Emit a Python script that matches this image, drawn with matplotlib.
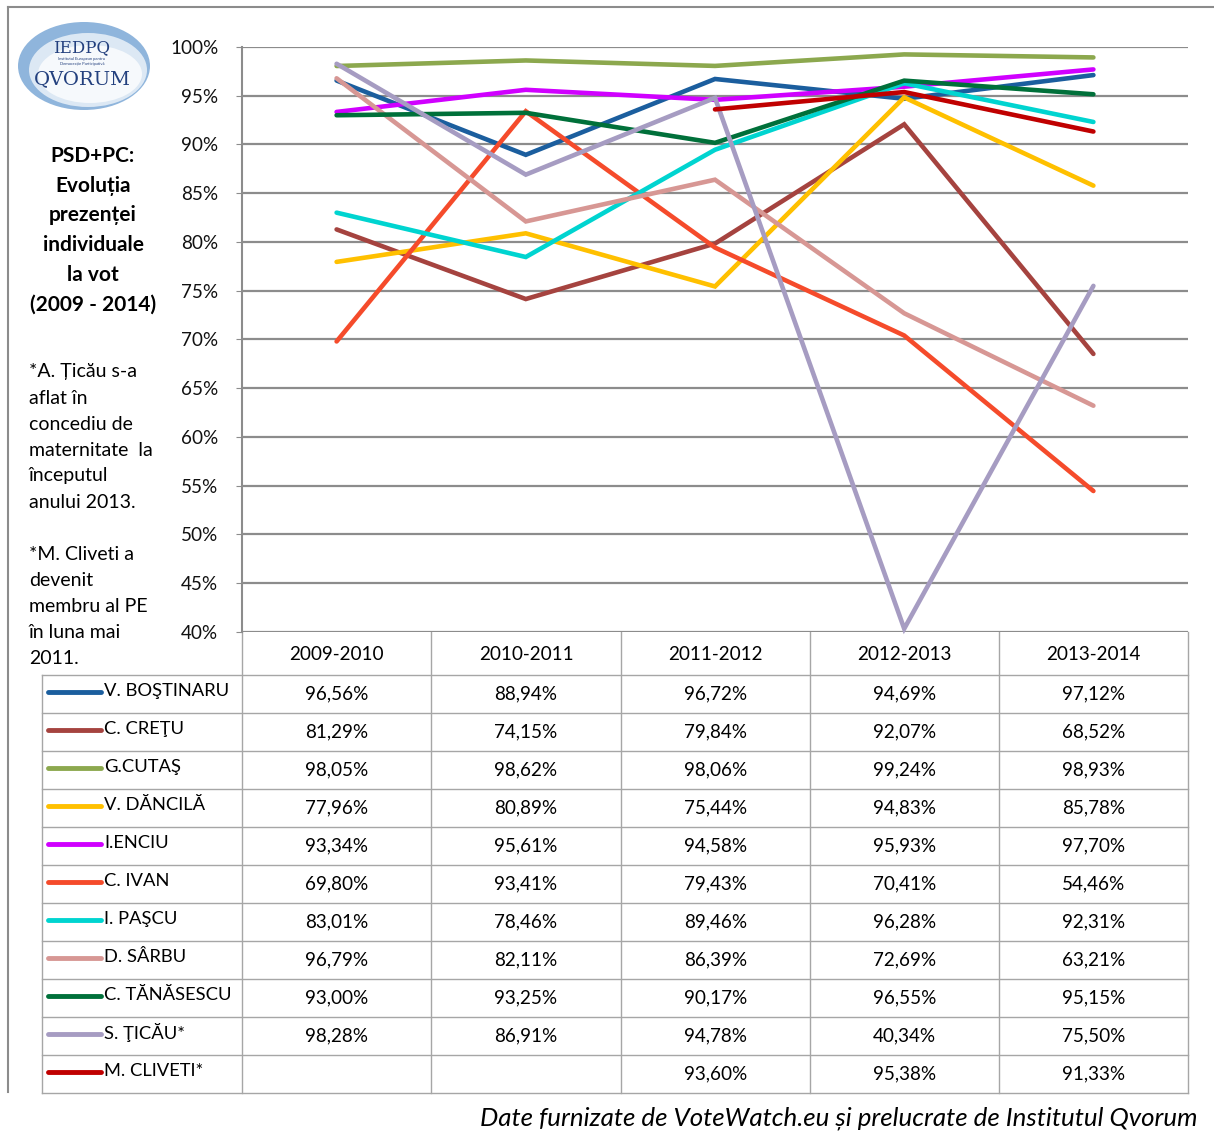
import numpy as np
import matplotlib
matplotlib.use('Agg')
import matplotlib.pyplot as plt
from matplotlib.patches import Ellipse

plt.rcParams['font.family'] = ['Lato', 'DejaVu Sans']

# date
perioade = ['2009-2010', '2010-2011', '2011-2012', '2012-2013', '2013-2014']
nume = ['V. BOŞTINARU', 'C. CREŢU', 'G.CUTAŞ', 'V. DĂNCILĂ', 'I.ENCIU', 'C. IVAN',
        'I. PAŞCU', 'D. SÂRBU', 'C. TĂNĂSESCU', 'S. ŢICĂU*', 'M. CLIVETI*']
bostinaru = [96.56, 88.94, 96.72, 94.69, 97.12]
cretu = [81.29, 74.15, 79.84, 92.07, 68.52]
cutas = [98.05, 98.62, 98.06, 99.24, 98.93]
dancila = [77.96, 80.89, 75.44, 94.83, 85.78]
enciu = [93.34, 95.61, 94.58, 95.93, 97.70]
ivan = [69.80, 93.41, 79.43, 70.41, 54.46]
pascu = [83.01, 78.46, 89.46, 96.28, 92.31]
sarbu = [96.79, 82.11, 86.39, 72.69, 63.21]
tanasescu = [93.00, 93.25, 90.17, 96.55, 95.15]
ticau = [98.28, 86.91, 94.78, 40.34, 75.50]
cliveti = [None, None, 93.60, 95.38, 91.33]
valori = [bostinaru, cretu, cutas, dancila, enciu, ivan, pascu, sarbu, tanasescu, ticau, cliveti]
culori = ['#1B5E9E', '#A5433F', '#8CA84E', '#FFC000', '#D000FF', '#F54B2B',
          '#00D4D0', '#D79794', '#00703A', '#A69CC2', '#C00000']
yticks = [40, 45, 50, 55, 60, 65, 70, 75, 80, 85, 90, 95, 100]

W, H = 1214, 1144
fig = plt.figure(figsize=(W / 100, H / 100), dpi=100)

# pixel overlay for frame, table, texts
bg = fig.add_axes([0, 0, 1, 1])
bg.set_xlim(0, W)
bg.set_ylim(H, 0)
bg.axis('off')

gray = '#8C8C8C'
tgray = '#A6A6A6'
bg.plot([8, W], [7, 7], color=gray, lw=1.5)
bg.plot([8, 8], [7, 1092], color=gray, lw=1.5)

# main chart
x0, x1, ytop, ybot = 242, 1188, 47, 632
ax = fig.add_axes([x0 / W, 1 - ybot / H, (x1 - x0) / W, (ybot - ytop) / H])
ax.set_xlim(-0.5, 4.5)
ax.set_ylim(40, 100)
ax.set_yticks(yticks)
ax.set_yticklabels([f'{v}%' for v in yticks], fontsize=13.6)
ax.set_xticks([])
ax.yaxis.grid(True, color=gray, lw=1.6)
ax.set_axisbelow(True)
for s in ['top', 'right', 'bottom']:
    ax.spines[s].set_visible(False)
ax.spines['left'].set_color(gray)
ax.spines['left'].set_linewidth(1.5)
ax.tick_params(axis='y', length=4, color=gray, pad=13, labelcolor='#111111')

xs = np.arange(len(perioade))
for vals, c in zip(valori, culori):
    y = np.array([np.nan if v is None else v for v in vals], dtype=float)
    ax.plot(xs, y, color=c, lw=3.3, solid_capstyle='round', solid_joinstyle='miter', clip_on=False)

# table
cols = [242, 431, 621, 810, 999, 1188]
row_h = 38
head_top, head_bot = 632, 675
rows = [head_bot + i * row_h for i in range(len(nume) + 1)]
for cx in cols:
    bg.plot([cx, cx], [head_top, rows[-1]], color=tgray, lw=1)
bg.plot([42, 42], [head_bot, rows[-1]], color=tgray, lw=1)
for ry in rows:
    bg.plot([42, 1188], [ry, ry], color=tgray, lw=1)
for j, p in enumerate(perioade):
    bg.text((cols[j] + cols[j + 1]) / 2, 654, p, ha='center', va='center', fontsize=13.6)
for i, (n, vals, c) in enumerate(zip(nume, valori, culori)):
    yc = rows[i] + row_h / 2
    bg.plot([48, 101], [yc - 2, yc - 2], color=c, lw=3.5, solid_capstyle='round')
    bg.text(104, yc - 3, n, ha='left', va='center', fontsize=13.2)
    for j, v in enumerate(vals):
        if v is None:
            continue
        s = f'{v:.2f}%'.replace('.', ',')
        bg.text((cols[j] + cols[j + 1]) / 2, yc, s, ha='center', va='center', fontsize=13.6)

# left texts
titlu = ['PSD+PC:', 'Evoluția', 'prezenței', 'individuale', 'la vot', '(2009 - 2014)']
for k, t in enumerate(titlu):
    bg.text(93, 156 + k * 29.7, t, ha='center', va='center', fontsize=15, fontweight='bold')
nota = ['*A. Țicău s-a', 'aflat în', 'concediu de', 'maternitate  la', 'începutul', 'anului 2013.',
        '', '*M. Cliveti a', 'devenit', 'membru al PE', 'în luna mai', '2011.']
for k, t in enumerate(nota):
    bg.text(29, 372 + k * 26, t, ha='left', va='center', fontsize=14)

# logo
bg.add_patch(Ellipse((84, 66), 132, 88, facecolor='#8FB5DC', edgecolor='none'))
bg.add_patch(Ellipse((88, 70), 118, 74, facecolor='#DCE8F4', edgecolor='none'))
bg.add_patch(Ellipse((90, 74), 104, 58, facecolor='#F6F9FC', edgecolor='none'))
navy = '#23407E'
bg.text(82, 48, 'IEDPQ', ha='center', va='center', fontsize=12, family='DejaVu Serif', color=navy)
bg.text(82, 59, 'Institutul European pentru', ha='center', va='center', fontsize=3, color=navy)
bg.text(82, 64, 'Democrație Participativă', ha='center', va='center', fontsize=3, color=navy)
bg.text(82, 79, 'QVORUM', ha='center', va='center', fontsize=14, family='DejaVu Serif', color=navy)

# source
bg.text(1198, 1118, 'Date furnizate de VoteWatch.eu și prelucrate de Institutul Qvorum',
        ha='right', va='center', fontsize=18.6, style='italic')

fig.savefig('out.png', dpi=100)
